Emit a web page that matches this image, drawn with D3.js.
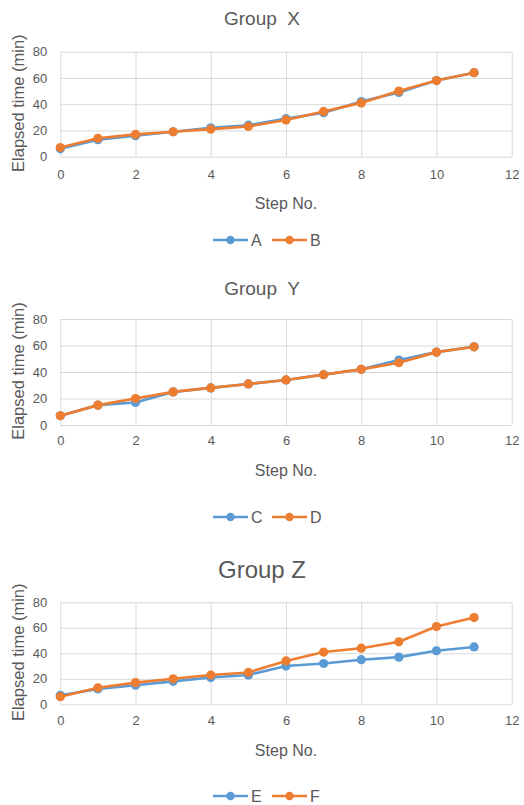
<!DOCTYPE html>
<html>
<head>
<meta charset="utf-8">
<script src="https://cdn.jsdelivr.net/npm/d3@7"></script>
<style>
  html, body { margin: 0; padding: 0; background: #ffffff; }
  svg { display: block; }
  text { font-family: "Liberation Sans", Arial, sans-serif; fill: #595959; }
</style>
</head>
<body>
<svg id="chart" width="524" height="805"></svg>
<script>
// Step numbers shared by every group
const steps = [0, 1, 2, 3, 4, 5, 6, 7, 8, 9, 10, 11];

// Elapsed time (min) per step
const seriesA = [6, 13, 16, 19, 22, 24, 29, 33.5, 42, 49, 58, 64];
const seriesB = [7, 14, 17, 19, 21, 23, 28, 34.5, 41, 50, 58, 64];
const seriesC = [7, 15, 17, 25, 28, 31, 34, 38, 42, 49, 55, 59];
const seriesD = [7, 15, 20, 25, 28, 31, 34, 38, 42, 47, 55, 59];
const seriesE = [7, 12, 15, 18, 21, 23, 30, 32, 35, 37, 42, 45];
const seriesF = [6, 13, 17, 20, 23, 25, 34, 41, 44, 49, 61, 68];

// Axis ticks
const xTicks = [0, 2, 4, 6, 8, 10, 12];
const yTicks = [0, 20, 40, 60, 80];

const titles = ["Group  X", "Group  Y", "Group Z"];
const seriesNames = [["A", "B"], ["C", "D"], ["E", "F"]];
const seriesValues = [[seriesA, seriesB], [seriesC, seriesD], [seriesE, seriesF]];

const colors = ["#5B9BD5", "#ED7D31"];

// Layout of each panel
const panels = [
  { top: 51.7, bottom: 156.7, titleY: 18, titleSize: 19, tickY: 179, axisTitleY: 203, legendY: 240 },
  { top: 319, bottom: 425, titleY: 288, titleSize: 19, tickY: 445, axisTitleY: 470, legendY: 517 },
  { top: 602.3, bottom: 704.3, titleY: 569, titleSize: 24, tickY: 725, axisTitleY: 750, legendY: 796 }
];
const left = 60.3, right = 511.7;

const svg = d3.select("#chart");
const x = d3.scaleLinear().domain([0, 12]).range([left, right]);

panels.forEach((p, i) => {
  const g = svg.append("g");
  const y = d3.scaleLinear().domain([0, 80]).range([p.bottom, p.top]);

  // Gridlines
  g.append("g")
    .attr("transform", `translate(0,${p.bottom})`)
    .call(d3.axisBottom(x).tickValues(xTicks).tickSize(-(p.bottom - p.top)).tickFormat(""))
    .call(s => s.select(".domain").remove())
    .call(s => s.selectAll("line").attr("stroke", "#D9D9D9").attr("stroke-width", 1));
  g.append("g")
    .attr("transform", `translate(${left},0)`)
    .call(d3.axisLeft(y).tickValues(yTicks).tickSize(-(right - left)).tickFormat(""))
    .call(s => s.select(".domain").remove())
    .call(s => s.selectAll("line").attr("stroke", "#D9D9D9").attr("stroke-width", 1));

  // Tick labels
  g.append("g")
    .attr("transform", `translate(0,${p.tickY - 9})`)
    .call(d3.axisBottom(x).tickValues(xTicks).tickSize(0).tickPadding(0).tickFormat(d3.format("d")))
    .call(s => s.select(".domain").remove())
    .call(s => s.selectAll("text").attr("fill", "#595959").attr("font-size", 13)
      .attr("font-family", "Liberation Sans, Arial, sans-serif").attr("dy", "0.71em"));
  g.append("g")
    .attr("transform", `translate(${left - 13},0)`)
    .call(d3.axisLeft(y).tickValues(yTicks).tickSize(0).tickPadding(0).tickFormat(d3.format("d")))
    .call(s => s.select(".domain").remove())
    .call(s => s.selectAll("text").attr("fill", "#595959").attr("font-size", 13)
      .attr("font-family", "Liberation Sans, Arial, sans-serif"));

  // Titles
  g.append("text")
    .attr("x", 262).attr("y", p.titleY)
    .attr("text-anchor", "middle").attr("dominant-baseline", "central")
    .attr("font-size", p.titleSize)
    .style("white-space", "pre")
    .text(titles[i]);
  g.append("text")
    .attr("x", (left + right) / 2).attr("y", p.axisTitleY)
    .attr("text-anchor", "middle").attr("dominant-baseline", "central")
    .attr("font-size", 16)
    .text("Step No.");
  g.append("text")
    .attr("transform", `translate(18,${(p.top + p.bottom) / 2 - 1}) rotate(-90)`)
    .attr("text-anchor", "middle").attr("dominant-baseline", "central")
    .attr("font-size", 16.5)
    .text("Elapsed time (min)");

  // Series lines and markers
  const line = d3.line().x((d, k) => x(steps[k])).y(d => y(d));
  seriesValues[i].forEach((vals, j) => {
    g.append("path")
      .datum(vals)
      .attr("d", line)
      .attr("fill", "none")
      .attr("stroke", colors[j])
      .attr("stroke-width", 2.6)
      .attr("stroke-linejoin", "round");
    g.selectAll(null)
      .data(vals)
      .enter().append("circle")
      .attr("cx", (d, k) => x(steps[k]))
      .attr("cy", d => y(d))
      .attr("r", 4.6)
      .attr("fill", colors[j]);
  });

  // Legend
  const legendX = [213, 272];
  seriesNames[i].forEach((name, j) => {
    const lg = g.append("g").attr("transform", `translate(${legendX[j]},${p.legendY})`);
    lg.append("line").attr("x1", 0).attr("x2", 35).attr("y1", 0).attr("y2", 0)
      .attr("stroke", colors[j]).attr("stroke-width", 2.6);
    lg.append("circle").attr("cx", 17.5).attr("cy", 0).attr("r", 4.2).attr("fill", colors[j]);
    lg.append("text").attr("x", 38).attr("y", 0)
      .attr("dominant-baseline", "central").attr("font-size", 16)
      .text(name);
  });
});
</script>
</body>
</html>
